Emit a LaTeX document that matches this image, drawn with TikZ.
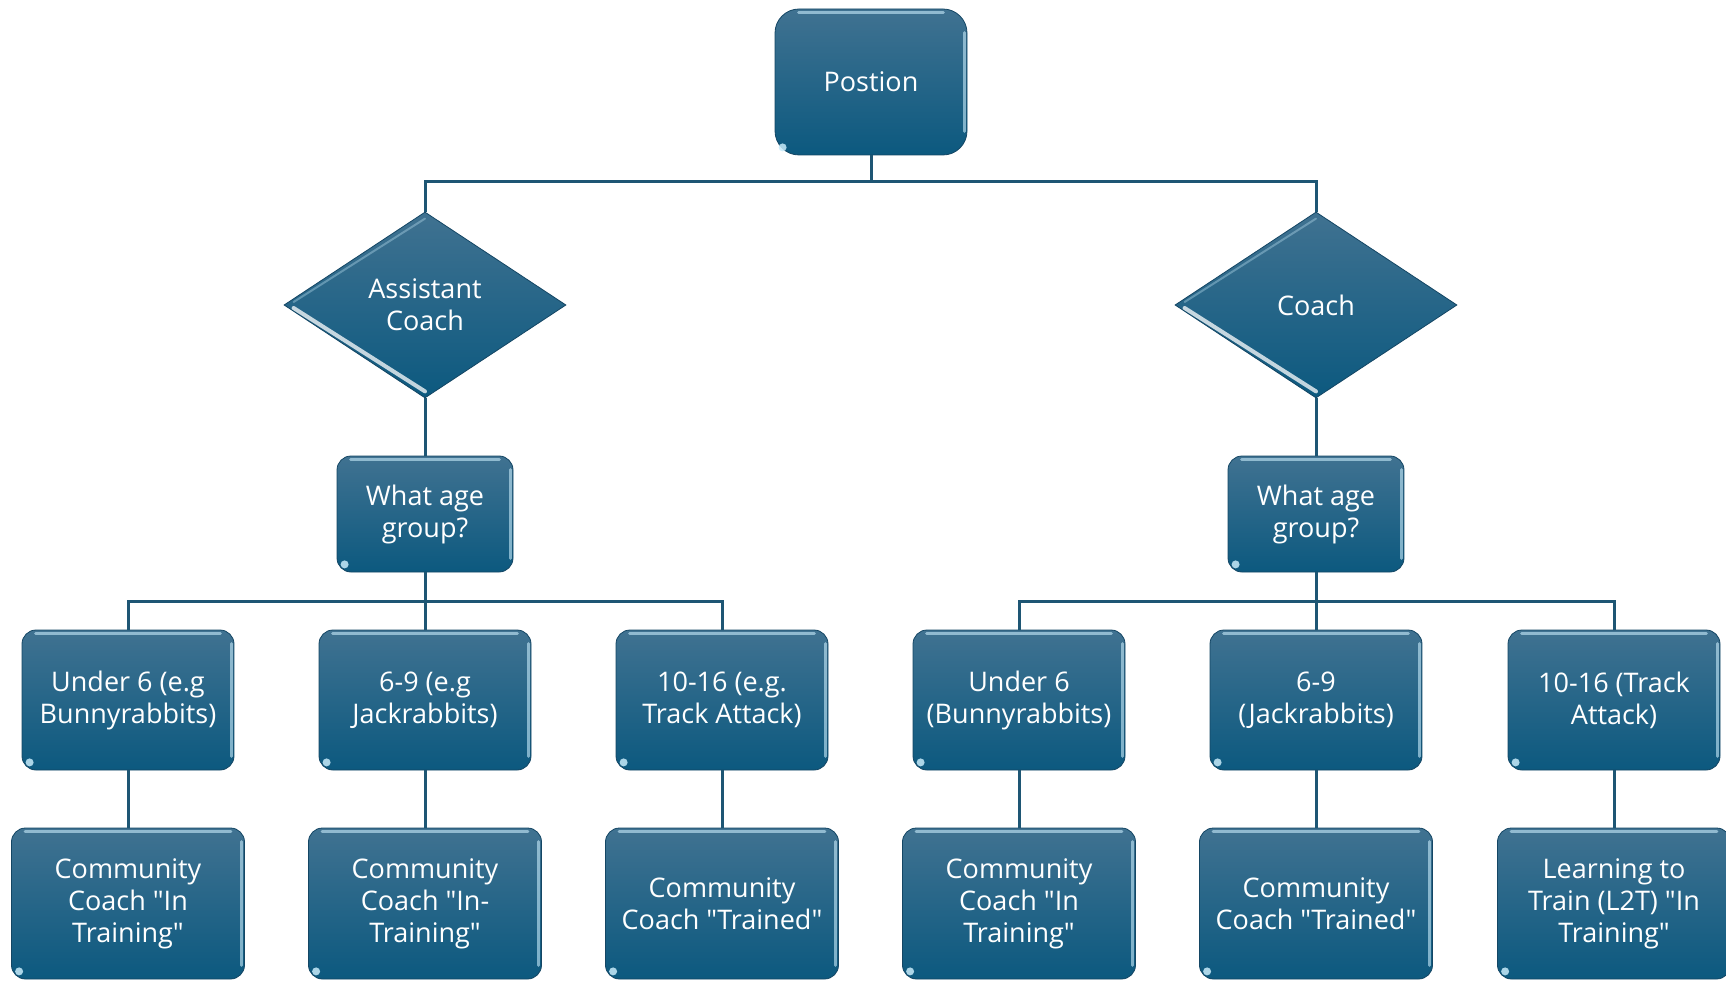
\documentclass[tikz,border=0pt]{standalone}
\usepackage{fontspec}
\setmainfont{Open Sans}
\usetikzlibrary{shapes.geometric}
\definecolor{topc}{RGB}{64,114,145}
\definecolor{botc}{RGB}{12,89,127}
\definecolor{edgec}{RGB}{20,70,100}
\definecolor{linec}{RGB}{30,86,116}
\definecolor{glossc}{RGB}{200,235,250}
\newcommand{\qq}{\textquotedbl}
\tikzset{
  gbox/.style={rectangle, rounded corners=14pt, top color=topc, bottom color=botc,
    draw=edgec, line width=0.8pt, text=white, align=center, inner sep=0pt,
    font=\fontsize{27}{32}\selectfont},
  gdia/.style={diamond, top color=topc, bottom color=botc, draw=edgec, line width=0.8pt,
    text=white, align=center, inner sep=0pt, minimum width=282pt, minimum height=186pt,
    font=\fontsize{27}{32}\selectfont},
  conn/.style={draw=linec, line width=3pt},
  gloss/.style={draw=glossc, line width=3pt, opacity=0.6, line cap=round},
}
\newcommand{\glossbox}[2]{%
  \draw[gloss] ([xshift=#2,yshift=-4pt]#1.north west) -- ([xshift=-#2,yshift=-4pt]#1.north east);
  \draw[gloss] ([xshift=-3pt,yshift=-#2]#1.north east) -- ([xshift=-3pt,yshift=#2]#1.south east);
  \fill[glossc, opacity=0.85] ([xshift=8pt,yshift=8pt]#1.south west) circle (4pt);
}
\newcommand{\glossdia}[1]{%
  \draw[draw=white, line width=4pt, opacity=0.75, line cap=round] ([xshift=10pt,yshift=-3pt]#1.west) -- ([yshift=7pt]#1.south);
  \draw[draw=glossc, line width=2pt, opacity=0.35, line cap=round] ([xshift=10pt,yshift=3pt]#1.west) -- ([yshift=-7pt]#1.north);
}
\begin{document}
\begin{tikzpicture}[x=1pt,y=-1pt]
\useasboundingbox (0,0) rectangle (1726,981);
\clip (0,0) rectangle (1726,981);
\coordinate (b1) at (0,182);
\coordinate (b2) at (0,601);

% nodes
\node[gbox, rounded corners=24pt, minimum width=192pt, minimum height=146pt] (pos) at (871,82) {Postion};
\node[gdia] (ac) at (425,305) {Assistant\\Coach};
\node[gdia] (co) at (1316,305) {Coach};
\node[gbox, minimum width=176pt, minimum height=116pt] (wa1) at (425,514) {What age\\group?};
\node[gbox, minimum width=176pt, minimum height=116pt] (wa2) at (1316,514) {What age\\group?};

\node[gbox, minimum width=212pt, minimum height=140pt] (u6a) at (128,700) {Under 6 (e.g\\Bunnyrabbits)};
\node[gbox, minimum width=212pt, minimum height=140pt] (s9a) at (425,700) {6-9 (e.g\\Jackrabbits)};
\node[gbox, minimum width=212pt, minimum height=140pt] (t16a) at (722,700) {10-16 (e.g.\\Track Attack)};
\node[gbox, minimum width=212pt, minimum height=140pt] (u6b) at (1019,700) {Under 6\\(Bunnyrabbits)};
\node[gbox, minimum width=212pt, minimum height=140pt] (s9b) at (1316,700) {6-9\\(Jackrabbits)};
\node[gbox, minimum width=212pt, minimum height=140pt] (t16b) at (1614,700) {10-16 (Track\\Attack)};

\node[gbox, minimum width=233pt, minimum height=151pt] (r1) at (128,903.5) {Community\\Coach \qq In\\Training\qq};
\node[gbox, minimum width=233pt, minimum height=151pt] (r2) at (425,903.5) {Community\\Coach \qq In-\\Training\qq};
\node[gbox, minimum width=233pt, minimum height=151pt] (r3) at (722,903.5) {Community\\Coach \qq Trained\qq};
\node[gbox, minimum width=233pt, minimum height=151pt] (r4) at (1019,903.5) {Community\\Coach \qq In\\Training\qq};
\node[gbox, minimum width=233pt, minimum height=151pt] (r5) at (1316,903.5) {Community\\Coach \qq Trained\qq};
\node[gbox, minimum width=233pt, minimum height=151pt] (r6) at (1614,903.5) {Learning to\\Train (L2T) \qq In\\Training\qq};

% gloss
\glossbox{pos}{24pt}
\foreach \n in {wa1,wa2,u6a,s9a,t16a,u6b,s9b,t16b,r1,r2,r3,r4,r5,r6}{\glossbox{\n}{14pt}}
\glossdia{ac}
\glossdia{co}

% connectors
\draw[conn] (pos.south) -- (pos.south |- b1);
\draw[conn] (ac.north) -- (ac.north |- b1) -- (co.north |- b1) -- (co.north);
\draw[conn] (ac.south) -- (wa1.north);
\draw[conn] (co.south) -- (wa2.north);
\draw[conn] (wa1.south) -- (wa1.south |- b2);
\draw[conn] (wa2.south) -- (wa2.south |- b2);
\draw[conn] (u6a.north) -- (u6a.north |- b2) -- (t16a.north |- b2) -- (t16a.north);
\draw[conn] (s9a.north) -- (s9a.north |- b2);
\draw[conn] (u6b.north) -- (u6b.north |- b2) -- (t16b.north |- b2) -- (t16b.north);
\draw[conn] (s9b.north) -- (s9b.north |- b2);
\draw[conn] (u6a.south) -- (r1.north);
\draw[conn] (s9a.south) -- (r2.north);
\draw[conn] (t16a.south) -- (r3.north);
\draw[conn] (u6b.south) -- (r4.north);
\draw[conn] (s9b.south) -- (r5.north);
\draw[conn] (t16b.south) -- (r6.north);
\end{tikzpicture}
\end{document}
